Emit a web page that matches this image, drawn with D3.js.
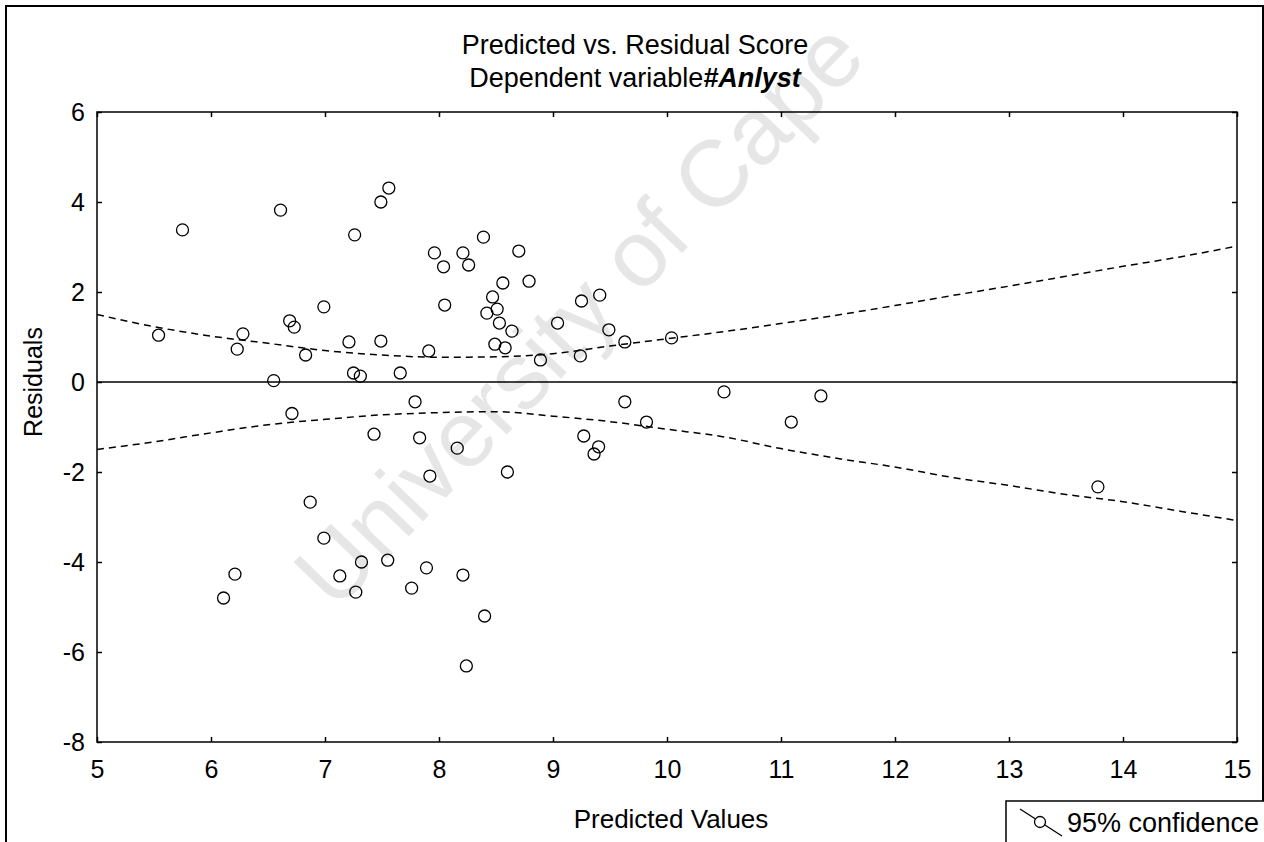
<!DOCTYPE html>
<html>
<head>
<meta charset="utf-8">
<script src="https://cdn.jsdelivr.net/npm/d3@7"></script>
<style>
  body { margin: 0; background: #fff; }
  text { font-family: "Liberation Sans", Arial, sans-serif; fill: #000; }
</style>
</head>
<body>
<div id="chart"></div>
<script>
// predicted values and residuals of each case
var predicted = [5.54, 5.75, 6.23, 6.28, 6.55, 6.61, 6.69, 6.73, 6.83, 6.99, 7.21, 7.25, 7.26, 7.31, 7.49,
  7.49, 7.56, 7.66, 7.91, 7.96, 8.04, 8.05, 8.21, 8.26, 8.39, 8.42, 8.47, 8.49, 8.51, 8.53,
  8.56, 8.58, 8.64, 8.70, 8.79, 8.89, 9.04, 9.24, 9.25, 9.41, 9.49, 9.63, 10.04,
  6.71, 7.43, 7.79, 7.83, 7.92, 8.16, 8.60, 9.27, 9.36, 9.40, 9.63, 9.82, 10.50, 11.09, 11.35, 13.78,
  6.11, 6.21, 6.87, 6.99, 7.13, 7.27, 7.32, 7.55, 7.76, 7.89, 8.21, 8.24, 8.40];
var residuals = [1.04, 3.38, 0.73, 1.07, 0.03, 3.82, 1.36, 1.22, 0.60, 1.67, 0.89, 0.20, 3.27, 0.13, 4.00,
  0.91, 4.31, 0.20, 0.69, 2.87, 2.56, 1.71, 2.87, 2.60, 3.22, 1.53, 1.89, 0.84, 1.62, 1.31,
  2.20, 0.76, 1.13, 2.91, 2.24, 0.49, 1.31, 0.58, 1.80, 1.93, 1.16, 0.89, 0.98,
  -0.70, -1.16, -0.44, -1.24, -2.09, -1.47, -2.00, -1.20, -1.60, -1.44, -0.44, -0.89, -0.22, -0.89, -0.31, -2.33,
  -4.80, -4.27, -2.67, -3.47, -4.31, -4.67, -4.00, -3.96, -4.58, -4.13, -4.29, -6.31, -5.20];

// 95% confidence band
var bandX = [5, 5.5, 6, 6.5, 7, 7.5, 8, 8.5, 9, 9.5, 10, 10.5, 11, 11.5, 12, 12.5, 13, 13.5, 14, 14.5, 15];
var bandUpper = [1.50, 1.23, 1.02, 0.86, 0.70, 0.60, 0.55, 0.56, 0.63, 0.80, 0.96, 1.12, 1.30, 1.49, 1.70, 1.92, 2.13, 2.35, 2.57, 2.78, 3.02];
var bandLower = [-1.50, -1.33, -1.13, -0.95, -0.83, -0.73, -0.68, -0.66, -0.76, -0.88, -1.05, -1.22, -1.48, -1.70, -1.89, -2.12, -2.30, -2.50, -2.66, -2.87, -3.08];

var xTicks = [5, 6, 7, 8, 9, 10, 11, 12, 13, 14, 15];
var yTicks = [-8, -6, -4, -2, 0, 2, 4, 6];

function drawGraph() {
  var W = 1264, H = 842;
  var margin = { top: 112, right: 27, bottom: 100, left: 97 };
  var width = W - margin.left - margin.right;
  var height = H - margin.top - margin.bottom;

  var svg = d3.select("#chart").append("svg")
    .attr("width", W)
    .attr("height", H);

  // outer frame
  svg.append("rect")
    .attr("x", 6).attr("y", 6)
    .attr("width", 1257).attr("height", 850)
    .attr("fill", "none").attr("stroke", "#000").attr("stroke-width", 2);

  // watermark
  svg.append("text")
    .attr("transform", "translate(602,336) rotate(-46)")
    .attr("text-anchor", "middle")
    .style("font-size", "94px")
    .style("fill", "#e6e6e6")
    .text("University of Cape");

  // titles
  svg.append("text")
    .attr("x", 635).attr("y", 54)
    .attr("text-anchor", "middle")
    .style("font-size", "27px")
    .text("Predicted vs. Residual Score");
  var sub = svg.append("text")
    .attr("x", 635).attr("y", 87)
    .attr("text-anchor", "middle")
    .style("font-size", "27px");
  sub.append("tspan").text("Dependent variable");
  sub.append("tspan").style("font-weight", "bold").style("font-style", "italic").text("#Anlyst");

  var g = svg.append("g")
    .attr("transform", "translate(" + margin.left + "," + margin.top + ")");

  var x = d3.scaleLinear().domain([5, 15]).range([0, width]);
  var y = d3.scaleLinear().domain([-8, 6]).range([height, 0]);
  var fmt = d => String(d); // plain hyphen for negatives

  // axes, ticks pointing inward
  g.append("g")
    .attr("transform", "translate(0," + height + ")")
    .call(d3.axisBottom(x).tickValues(xTicks).tickFormat(fmt).tickSize(-5).tickSizeOuter(0).tickPadding(18))
    .call(a => a.select(".domain").remove())
    .selectAll("text").style("font-size", "25px");
  g.append("g")
    .call(d3.axisLeft(y).tickValues(yTicks).tickFormat(fmt).tickSize(-5).tickSizeOuter(0).tickPadding(12))
    .call(a => a.select(".domain").remove())
    .selectAll("text").style("font-size", "25px");
  g.append("g")
    .call(d3.axisTop(x).tickValues(xTicks).tickSize(-5).tickSizeOuter(0).tickFormat(""))
    .call(a => a.select(".domain").remove());
  g.append("g")
    .attr("transform", "translate(" + width + ",0)")
    .call(d3.axisRight(y).tickValues(yTicks).tickSize(-5).tickSizeOuter(0).tickFormat(""))
    .call(a => a.select(".domain").remove());
  g.selectAll(".tick line").attr("stroke", "#000").attr("stroke-width", 1.5);

  g.append("rect")
    .attr("width", width).attr("height", height)
    .attr("fill", "none").attr("stroke", "#000").attr("stroke-width", 1.5);

  // zero line
  g.append("line")
    .attr("x1", 0).attr("x2", width)
    .attr("y1", y(0)).attr("y2", y(0))
    .attr("stroke", "#000").attr("stroke-width", 1.5);

  // confidence band
  var line = d3.line()
    .x(d => x(d[0]))
    .y(d => y(d[1]))
    .curve(d3.curveMonotoneX);
  [bandUpper, bandLower].forEach(function (band) {
    g.append("path")
      .datum(bandX.map((v, i) => [v, band[i]]))
      .attr("fill", "none")
      .attr("stroke", "#000")
      .attr("stroke-width", 1.5)
      .attr("stroke-dasharray", "7,5")
      .attr("d", line);
  });

  // points
  g.selectAll(".dot")
    .data(predicted.map((v, i) => [v, residuals[i]]))
    .enter().append("circle")
    .attr("class", "dot")
    .attr("cx", d => x(d[0]))
    .attr("cy", d => y(d[1]))
    .attr("r", 6)
    .attr("fill", "none")
    .attr("stroke", "#000")
    .attr("stroke-width", 1.3);

  // axis titles
  svg.append("text")
    .attr("x", 671).attr("y", 828)
    .attr("text-anchor", "middle")
    .style("font-size", "26px")
    .text("Predicted Values");
  svg.append("text")
    .attr("transform", "translate(42," + (margin.top + y(0)) + ") rotate(-90)")
    .attr("text-anchor", "middle")
    .style("font-size", "25px")
    .text("Residuals");

  // legend
  var leg = svg.append("g");
  leg.append("rect")
    .attr("x", 1006).attr("y", 801)
    .attr("width", 264).attr("height", 60)
    .attr("fill", "#fff").attr("stroke", "#000").attr("stroke-width", 1.5);
  leg.append("line")
    .attr("x1", 1020).attr("y1", 809).attr("x2", 1062).attr("y2", 836)
    .attr("stroke", "#000").attr("stroke-width", 1.3);
  leg.append("circle")
    .attr("cx", 1040).attr("cy", 822).attr("r", 5.5)
    .attr("fill", "#fff").attr("stroke", "#000").attr("stroke-width", 1.3);
  leg.append("text")
    .attr("x", 1067).attr("y", 832)
    .style("font-size", "27px")
    .text("95% confidence");
}

window.onload = drawGraph;
</script>
</body>
</html>
